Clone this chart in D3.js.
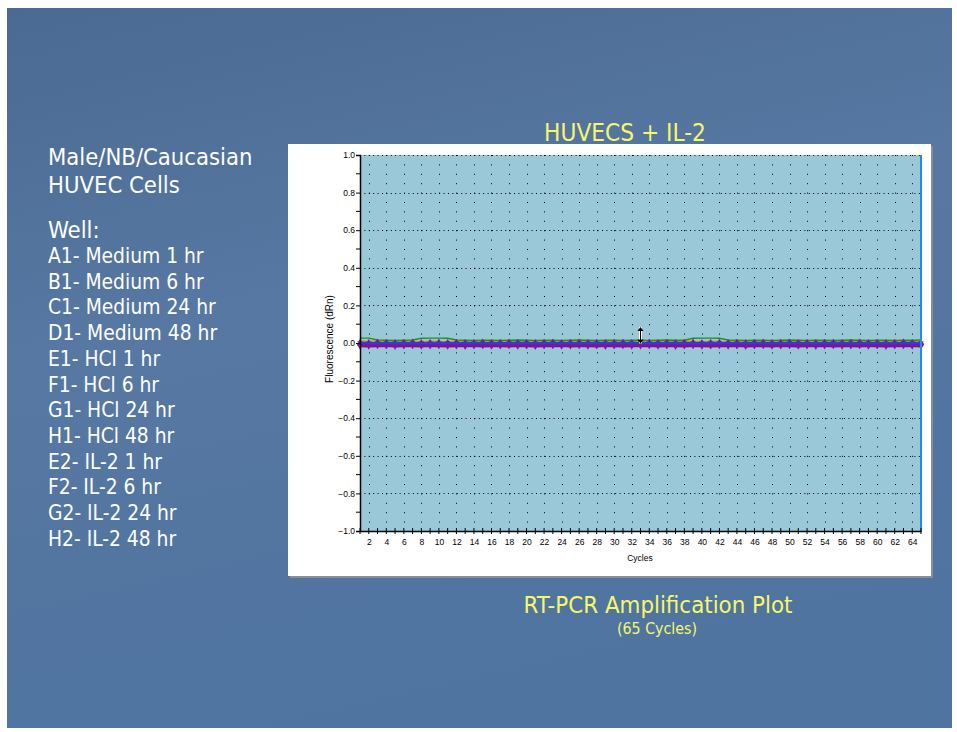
<!DOCTYPE html>
<html>
<head>
<meta charset="utf-8">
<script src="https://cdn.jsdelivr.net/npm/d3@7"></script>
<style>
  body { margin: 0; background: #ffffff; }
  svg { display: block; }
</style>
</head>
<body>
<script>
'use strict';

// cycle numbers on the x axis
const cycles = d3.range(1, 66);

// dRn values per well group (all sit near 0)
const greenWell = [
  0.026,0.026,0.016,0.015,0.014,0.015,0.016,0.025,0.026,0.026,
  0.025,0.016,0.015,0.014,0.015,0.015,0.014,0.015,0.016,0.015,
  0.014,0.015,0.015,0.014,0.015,0.016,0.015,0.014,0.015,0.015,
  0.014,0.015,0.015,0.014,0.015,0.016,0.015,0.015,0.025,0.026,
  0.026,0.025,0.016,0.015,0.014,0.015,0.015,0.014,0.015,0.016,
  0.015,0.014,0.015,0.015,0.014,0.015,0.016,0.015,0.014,0.015,
  0.015,0.014,0.015,0.015,0.016];
const orangeWell = [
  0.010,0.008,0.009,0.007,0.008,0.010,0.008,0.007,0.009,0.008,
  0.007,0.009,0.008,0.010,0.008,0.007,0.009,0.008,0.007,0.009,
  0.008,0.010,0.008,0.007,0.009,0.008,0.007,0.009,0.008,0.010,
  0.008,0.007,0.009,0.008,0.007,0.009,0.008,0.010,0.008,0.007,
  0.009,0.008,0.007,0.009,0.008,0.010,0.008,0.007,0.009,0.008,
  0.007,0.009,0.008,0.010,0.008,0.007,0.009,0.008,0.007,0.009,
  0.008,0.010,0.008,0.007,0.009];
const blueWell = [
  0.001,0.000,-0.001,0.000,0.001,0.000,0.000,-0.001,0.000,0.001,
  0.000,-0.001,0.000,0.001,0.000,0.000,-0.001,0.000,0.001,0.000,
  -0.001,0.000,0.001,0.000,0.000,-0.001,0.000,0.001,0.000,-0.001,
  0.000,0.001,0.000,0.000,-0.001,0.000,0.001,0.000,-0.001,0.000,
  0.001,0.000,0.000,-0.001,0.000,0.001,0.000,-0.001,0.000,0.001,
  0.000,0.000,-0.001,0.000,0.001,0.000,-0.001,0.000,0.001,0.000,
  0.000,-0.001,0.000,0.001,0.000];
const redWell = [
  -0.003,-0.004,-0.002,-0.003,-0.004,-0.003,-0.002,-0.003,-0.004,-0.003,
  -0.002,-0.003,-0.004,-0.003,-0.002,-0.003,-0.004,-0.003,-0.002,-0.003,
  -0.004,-0.003,-0.002,-0.003,-0.004,-0.003,-0.002,-0.003,-0.004,-0.003,
  -0.002,-0.003,-0.004,-0.003,-0.002,-0.003,-0.004,-0.003,-0.002,-0.003,
  -0.004,-0.003,-0.002,-0.003,-0.004,-0.003,-0.002,-0.003,-0.004,-0.003,
  -0.002,-0.003,-0.004,-0.003,-0.002,-0.003,-0.004,-0.003,-0.002,-0.003,
  -0.004,-0.003,-0.002,-0.003,-0.003];
const purpleWell = [
  -0.006,-0.007,-0.005,-0.006,-0.008,-0.006,-0.005,-0.007,-0.006,-0.005,
  -0.007,-0.006,-0.008,-0.006,-0.005,-0.007,-0.006,-0.005,-0.007,-0.006,
  -0.008,-0.006,-0.005,-0.007,-0.006,-0.005,-0.007,-0.006,-0.008,-0.006,
  -0.005,-0.007,-0.006,-0.005,-0.007,-0.006,-0.008,-0.006,-0.005,-0.007,
  -0.006,-0.005,-0.007,-0.006,-0.008,-0.006,-0.005,-0.007,-0.006,-0.005,
  -0.007,-0.006,-0.008,-0.006,-0.005,-0.007,-0.006,-0.005,-0.007,-0.006,
  -0.008,-0.006,-0.005,-0.007,-0.006];
const maroonWell = [
  -0.017,-0.018,-0.017,-0.016,-0.018,-0.017,-0.017,-0.018,-0.016,-0.017,
  -0.018,-0.017,-0.017,-0.016,-0.018,-0.017,-0.017,-0.018,-0.016,-0.017,
  -0.018,-0.017,-0.017,-0.016,-0.018,-0.017,-0.017,-0.018,-0.016,-0.017,
  -0.018,-0.017,-0.017,-0.016,-0.018,-0.017,-0.017,-0.018,-0.016,-0.017,
  -0.018,-0.017,-0.017,-0.016,-0.018,-0.017,-0.017,-0.018,-0.016,-0.017,
  -0.018,-0.017,-0.017,-0.016,-0.018,-0.017,-0.017,-0.018,-0.016,-0.017,
  -0.018,-0.017,-0.017,-0.016,-0.018];

// threshold marker (dRn) at cycle 33
const thresholdCycle = 33;
const thresholdRange = [0.085, -0.002];

// axis ticks
const yMajorTicks = [-1.0, -0.8, -0.6, -0.4, -0.2, 0.0, 0.2, 0.4, 0.6, 0.8, 1.0];
const yMinorTicks = [-0.9, -0.7, -0.5, -0.3, -0.1, 0.1, 0.3, 0.5, 0.7, 0.9];
const xLabelTicks = d3.range(2, 65, 2);

// slide texts
const slideHeading = ["Male/NB/Caucasian", "HUVEC Cells"];
const wellLabel = "Well:";
const wells = [
  "A1- Medium 1 hr", "B1- Medium 6 hr", "C1- Medium 24 hr", "D1- Medium 48 hr",
  "E1- HCl 1 hr", "F1- HCl 6 hr", "G1- HCl 24 hr", "H1- HCl 48 hr",
  "E2- IL-2 1 hr", "F2- IL-2 6 hr", "G2- IL-2 24 hr", "H2- IL-2 48 hr"
];
const chartTitle = "HUVECS + IL-2";
const caption = "RT-PCR Amplification Plot";
const subCaption = "(65 Cycles)";

(function() {
    const W = 957, H = 732;
    const plot = { left: 360, right: 921, top: 155, bottom: 531 };
    const yellow = '#f7f76a';
    const slideFont = '"DejaVu Sans Condensed", "DejaVu Sans", sans-serif';

    const svg = d3.select('body').append('svg')
        .attr('width', W)
        .attr('height', H);

    // slide background
    const defs = svg.append('defs');
    const grad = defs.append('linearGradient')
        .attr('id', 'slideBg')
        .attr('x1', 0).attr('y1', 0).attr('x2', 0.3).attr('y2', 1);
    grad.append('stop').attr('offset', '0%').attr('stop-color', '#4a6a93');
    grad.append('stop').attr('offset', '45%').attr('stop-color', '#5778a2');
    grad.append('stop').attr('offset', '100%').attr('stop-color', '#4f74a0');

    svg.append('rect')
        .attr('x', 7).attr('y', 8)
        .attr('width', 945).attr('height', 720)
        .attr('fill', 'url(#slideBg)');

    // left text block
    const left = svg.append('g')
        .attr('font-family', slideFont)
        .attr('fill', '#ffffff');

    left.selectAll('.heading')
        .data(slideHeading)
        .enter()
        .append('text')
        .attr('class', 'heading')
        .attr('x', 48)
        .attr('y', (d, i) => 165 + i * 28)
        .style('font-size', '23.6px')
        .text(d => d);

    left.append('text')
        .attr('x', 48).attr('y', 238)
        .style('font-size', '23.6px')
        .text(wellLabel);

    left.selectAll('.well')
        .data(wells)
        .enter()
        .append('text')
        .attr('class', 'well')
        .attr('x', 48)
        .attr('y', (d, i) => 263 + i * 25.7)
        .style('font-size', '20.8px')
        .text(d => d);

    // titles
    svg.append('text')
        .attr('x', 625).attr('y', 141)
        .attr('text-anchor', 'middle')
        .attr('font-family', slideFont)
        .style('font-size', '24.2px')
        .attr('fill', yellow)
        .text(chartTitle);

    svg.append('text')
        .attr('x', 658).attr('y', 613)
        .attr('text-anchor', 'middle')
        .attr('font-family', slideFont)
        .style('font-size', '23.8px')
        .attr('fill', yellow)
        .text(caption);

    svg.append('text')
        .attr('x', 657).attr('y', 634)
        .attr('text-anchor', 'middle')
        .attr('font-family', slideFont)
        .style('font-size', '15.8px')
        .attr('fill', yellow)
        .text(subCaption);

    // white chart panel with shadow
    svg.append('rect')
        .attr('x', 290).attr('y', 146)
        .attr('width', 643).attr('height', 432)
        .attr('fill', '#8a8f96');
    svg.append('rect')
        .attr('x', 288).attr('y', 144)
        .attr('width', 643).attr('height', 432)
        .attr('fill', '#ffffff');

    // scales
    const xScale = d3.scaleLinear()
        .domain([1, 65])
        .range([plot.left, plot.right]);
    const yScale = d3.scaleLinear()
        .domain([-1, 1])
        .range([plot.bottom, plot.top]);

    // plot background
    svg.append('rect')
        .attr('x', plot.left).attr('y', plot.top)
        .attr('width', plot.right - plot.left)
        .attr('height', plot.bottom - plot.top)
        .attr('fill', '#9bc8d8');

    // dotted grid
    const grid = svg.append('g').attr('stroke', '#000').attr('stroke-width', 1);
    grid.selectAll('.vgrid')
        .data(xLabelTicks)
        .enter()
        .append('line')
        .attr('x1', d => Math.round(xScale(d)) + 0.5)
        .attr('x2', d => Math.round(xScale(d)) + 0.5)
        .attr('y1', plot.top)
        .attr('y2', plot.bottom)
        .attr('stroke-dasharray', '1,8.4');
    grid.selectAll('.hgrid')
        .data(yMajorTicks.slice(1))
        .enter()
        .append('line')
        .attr('x1', plot.left)
        .attr('x2', plot.right)
        .attr('y1', d => Math.round(yScale(d)) + 0.5)
        .attr('y2', d => Math.round(yScale(d)) + 0.5)
        .attr('stroke-dasharray', '1,3.4');

    // series
    const series = [
        { values: maroonWell, color: '#7a1a50', width: 2,   marker: null },
        { values: orangeWell, color: '#e0861e', width: 1.6, marker: null },
        { values: greenWell,  color: '#129a12', width: 1.4, marker: null },
        { values: redWell,    color: '#d42020', width: 1.4, marker: 'x' },
        { values: purpleWell, color: '#8410a8', width: 4,   marker: 'diamond' },
        { values: blueWell,   color: '#2040e8', width: 2,   marker: null }
    ];

    const line = d3.line()
        .x((d, i) => xScale(cycles[i]))
        .y(d => yScale(d));

    const seriesG = svg.append('g');
    series.forEach((s) => {
        seriesG.append('path')
            .datum(s.values)
            .attr('d', line)
            .attr('fill', 'none')
            .attr('stroke', s.color)
            .attr('stroke-width', s.width);

        if (s.marker === 'diamond') {
            seriesG.selectAll(null)
                .data(s.values)
                .enter()
                .append('path')
                .attr('transform', (d, i) => 'translate(' + xScale(cycles[i]) + ',' + yScale(d) + ')')
                .attr('d', d3.symbol().type(d3.symbolDiamond).size(34))
                .attr('fill', s.color);
        } else if (s.marker === 'x') {
            seriesG.selectAll(null)
                .data(s.values)
                .enter()
                .append('path')
                .attr('transform', (d, i) => 'translate(' + xScale(cycles[i]) + ',' + yScale(d) + ')')
                .attr('d', d3.symbol().type(d3.symbolX).size(16))
                .attr('fill', 'none')
                .attr('stroke', s.color)
                .attr('stroke-width', 1);
        }
    });

    // threshold arrow
    const arrowX = xScale(thresholdCycle);
    const y0 = yScale(thresholdRange[0]), y1 = yScale(thresholdRange[1]);
    svg.append('line')
        .attr('x1', arrowX).attr('x2', arrowX)
        .attr('y1', y0).attr('y2', y1)
        .attr('stroke', '#ffffff').attr('stroke-width', 3);
    svg.append('line')
        .attr('x1', arrowX).attr('x2', arrowX)
        .attr('y1', y0 + 3).attr('y2', y1 - 3)
        .attr('stroke', '#000').attr('stroke-width', 1);
    svg.append('path')
        .attr('d', 'M' + (arrowX - 3) + ',' + (y0 + 4) + 'L' + arrowX + ',' + y0 + 'L' + (arrowX + 3) + ',' + (y0 + 4) + 'Z')
        .attr('fill', '#000');
    svg.append('path')
        .attr('d', 'M' + (arrowX - 3) + ',' + (y1 - 4) + 'L' + arrowX + ',' + y1 + 'L' + (arrowX + 3) + ',' + (y1 - 4) + 'Z')
        .attr('fill', '#000');

    // right blue boundary at the last cycle
    svg.append('line')
        .attr('x1', plot.right).attr('x2', plot.right)
        .attr('y1', plot.top).attr('y2', plot.bottom)
        .attr('stroke', '#1a8cff').attr('stroke-width', 2);

    // y axis
    const yAxis = d3.axisLeft(yScale)
        .tickValues(yMajorTicks)
        .tickFormat(d3.format('.1f'))
        .tickSize(4)
        .tickPadding(1);
    const yG = svg.append('g')
        .attr('transform', 'translate(' + plot.left + ',0)')
        .call(yAxis);
    yG.append('g').selectAll('line')
        .data(yMinorTicks)
        .enter()
        .append('line')
        .attr('x1', -4).attr('x2', 0)
        .attr('y1', d => yScale(d)).attr('y2', d => yScale(d))
        .attr('stroke', '#000');

    // x axis
    const xAxis = d3.axisBottom(xScale)
        .tickValues(xLabelTicks)
        .tickSize(0)
        .tickPadding(8);
    const xG = svg.append('g')
        .attr('transform', 'translate(0,' + plot.bottom + ')')
        .call(xAxis);
    xG.append('g').selectAll('line')
        .data(cycles)
        .enter()
        .append('line')
        .attr('x1', d => xScale(d)).attr('x2', d => xScale(d))
        .attr('y1', -3).attr('y2', 3)
        .attr('stroke', '#000');

    [yG, xG].forEach((g) => {
        g.select('.domain').attr('stroke', '#000').attr('stroke-width', 1.5);
        g.selectAll('text')
            .attr('font-family', '"Liberation Sans", Arial, sans-serif')
            .style('font-size', '8.5px')
            .attr('fill', '#000');
    });

    // axis titles
    svg.append('text')
        .attr('x', 640).attr('y', 561)
        .attr('text-anchor', 'middle')
        .attr('font-family', '"Liberation Sans", Arial, sans-serif')
        .style('font-size', '8.5px')
        .text('Cycles');

    svg.append('text')
        .attr('transform', 'translate(333, 339)rotate(-90)')
        .attr('text-anchor', 'middle')
        .attr('font-family', '"Liberation Sans", Arial, sans-serif')
        .style('font-size', '10px')
        .text('Fluorescence (dRn)');
})();
</script>
</body>
</html>
